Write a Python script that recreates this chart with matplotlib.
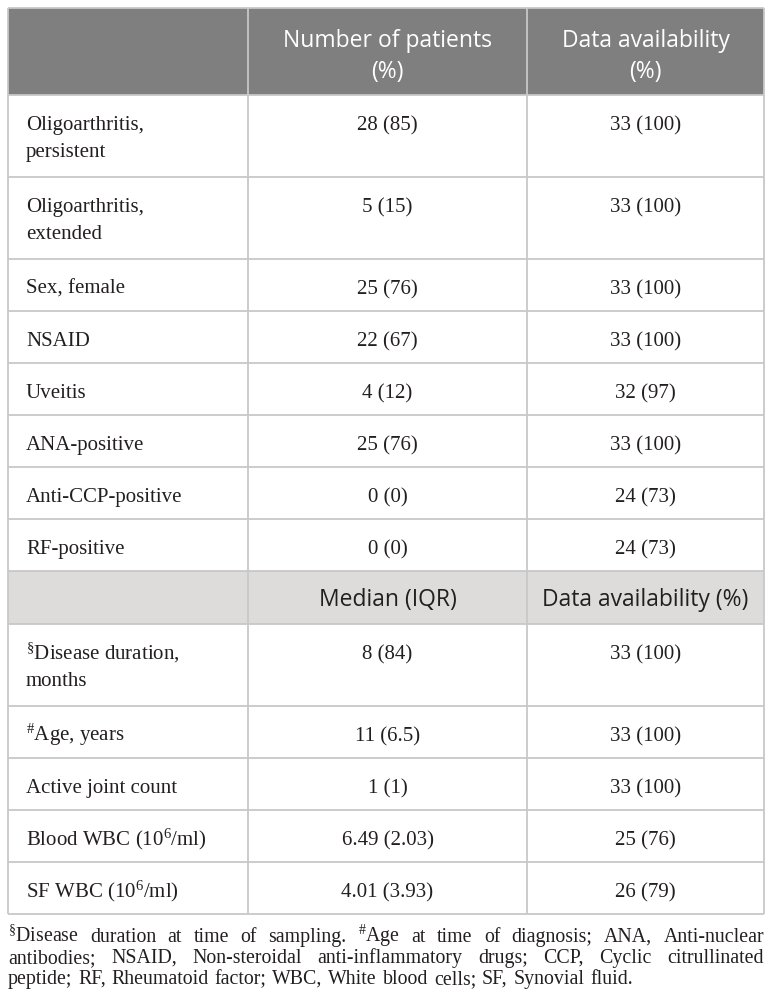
import matplotlib
matplotlib.use("Agg")
import matplotlib.pyplot as plt
from matplotlib.patches import Rectangle

plt.rcParams['mathtext.fontset'] = 'custom'
plt.rcParams['mathtext.rm'] = 'Liberation Serif'
plt.rcParams['mathtext.it'] = 'Liberation Serif'

## table content

head_1 = ["", "Number of patients\n(%)", "Data availability\n(%)"]
cat_labels = ["Oligoarthritis,\npersistent", "Oligoarthritis,\nextended", "Sex, female",
              "NSAID", "Uveitis", "ANA-positive", "Anti-CCP-positive", "RF-positive"]
n_patients = ["28 (85)", "5 (15)", "25 (76)", "22 (67)", "4 (12)", "25 (76)", "0 (0)", "0 (0)"]
cat_avail = ["33 (100)", "33 (100)", "33 (100)", "33 (100)", "32 (97)", "33 (100)", "24 (73)", "24 (73)"]

head_2 = ["", "Median (IQR)", "Data availability (%)"]
num_labels = [r"$^{\S}$Disease duration," + "\nmonths", r"$^{\#}$Age, years", "Active joint count",
              r"Blood WBC (10$^{6}$/ml)", r"SF WBC (10$^{6}$/ml)"]
medians = ["8 (84)", "11 (6.5)", "1 (1)", "6.49 (2.03)", "4.01 (3.93)"]
num_avail = ["33 (100)", "33 (100)", "33 (100)", "25 (76)", "26 (79)"]

footnote = [
    r"$^{\S}$Disease duration at time of sampling. $^{\#}$Age at time of diagnosis; ANA, Anti-nuclear",
    "antibodies; NSAID, Non-steroidal anti-inflammatory drugs; CCP, Cyclic citrullinated",
    "peptide; RF, Rheumatoid factor; WBC, White blood cells; SF, Synovial fluid.",
]

## layout (pixels)
W, H = 772, 1008
x0, x1, x2, x3 = 8, 248, 527, 764
top = 8
h_head1 = 87
h_head2 = 53
h_one = 52
h_two = 82
pad_left = 18
txt = '#231f20'
grid = '#c8c8c8'
serif = 'Liberation Serif'
sans = 'Open Sans'
fs_body = 15
fs_head = 16.5
fs_foot = 14.3

fig = plt.figure(figsize=(W / 100, H / 100), dpi=100)
ax = fig.add_axes([0, 0, 1, 1])
ax.set_xlim(0, W)
ax.set_ylim(H, 0)
ax.axis('off')

centers = [None, (x1 + x2) / 2, (x2 + x3) / 2]


def header(y, h, labels, bg, fg, first_base):
    ax.add_patch(Rectangle((x0, y), x3 - x0, h, facecolor=bg, edgecolor='none', zorder=0))
    for c in (1, 2):
        for k, line in enumerate(labels[c].split("\n")):
            ax.text(centers[c], y + first_base + 31 * k, line, ha='center', va='baseline',
                    fontsize=fs_head, family=sans, color=fg)
    return y + h


def body_row(y, label, v1, v2):
    lines = label.split("\n")
    h = h_two if len(lines) > 1 else h_one
    for k, line in enumerate(lines):
        ax.text(x0 + pad_left, y + 35 + 27 * k, line, ha='left', va='baseline',
                fontsize=fs_body, family=serif, color=txt)
    ax.text(centers[1], y + 35, v1, ha='center', va='baseline', fontsize=fs_body, family=serif, color=txt)
    ax.text(centers[2], y + 35, v2, ha='center', va='baseline', fontsize=fs_body, family=serif, color=txt)
    return y + h


hlines = [top]
y = header(top, h_head1, head_1, '#7f7f7f', 'white', 39)
hlines.append(y)
for lab, a, b in zip(cat_labels, n_patients, cat_avail):
    y = body_row(y, lab, a, b)
    hlines.append(y)
y = header(y, h_head2, head_2, '#dedcdb', txt, 35)
hlines.append(y)
for lab, a, b in zip(num_labels, medians, num_avail):
    y = body_row(y, lab, a, b)
    hlines.append(y)
bottom = y

for yy in hlines:
    ax.plot([x0, x3], [yy, yy], color=grid, lw=1.3, zorder=2, solid_capstyle='butt')
for xx in (x0, x1, x2, x3):
    ax.plot([xx, xx], [top, bottom], color=grid, lw=1.3, zorder=2, solid_capstyle='butt')

## justified footnote
fig.canvas.draw()
renderer = fig.canvas.get_renderer()
base = bottom + 28
sp = ax.text(0, 0, "a a", fontsize=fs_foot, family=serif)
w_sp = sp.get_window_extent(renderer).width
sp.set_text("aa")
w_sp -= sp.get_window_extent(renderer).width
sp.remove()
for i, line in enumerate(footnote):
    words = line.split(" ")
    arts = [ax.text(0, base + 21 * i, w, ha='left', va='baseline', fontsize=fs_foot,
                    family=serif, color=txt) for w in words]
    widths = [a.get_window_extent(renderer).width for a in arts]
    if i < len(footnote) - 1:
        gap = (x3 - x0 - sum(widths)) / (len(words) - 1)
    else:
        gap = w_sp * 1.15
    xx = x0
    for a, w in zip(arts, widths):
        a.set_x(xx)
        xx += w + gap

fig.savefig("out.png", dpi=100)
